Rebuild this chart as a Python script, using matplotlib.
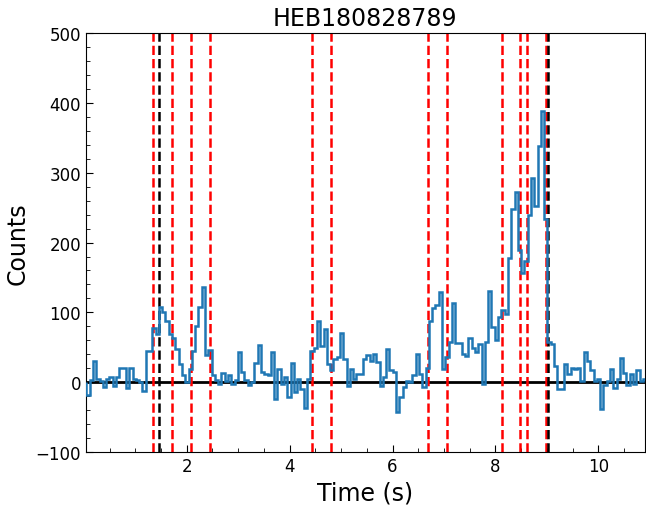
import numpy as np
import matplotlib
matplotlib.use("Agg")
import matplotlib.pyplot as plt
from matplotlib.ticker import MultipleLocator

title = "HEB180828789"
t_start = 0.05
bin_width = 0.064
counts = [
    -19, 3, 30, 5, 2, -7, 5, 7, -6, 8,
    21, 20, -8, 20, 4, 3, 0, -12, 44, 44,
    77, 69, 107, 101, 88, 69, 64, 48, 26, 10,
    0, 19, 45, 80, 107, 137, 39, 46, 10, 3,
    -3, 13, 1, 10, -2, 3, 43, 15, 3, -4,
    0, 27, 53, 14, 12, 10, 43, -24, 19, -2,
    7, -21, 28, -14, 4, -10, -37, 4, 45, 49,
    87, 52, 76, 26, 18, 33, 36, 71, 33, -5,
    19, 5, 12, 12, 33, 39, 31, 41, 29, -5,
    7, 48, 17, 14, -42, -21, -7, 2, 0, 10,
    41, 12, -7, 21, 88, 106, 110, 129, 19, 36,
    58, 113, 56, 56, 41, 38, 63, 49, 43, 55,
    -2, 58, 131, 79, 60, 93, 103, 98, 178, 248,
    272, 190, 157, 174, 239, 292, 253, 338, 388, 233,
    57, 55, 23, -10, -10, 26, 12, 20, 19, 21,
    1, 43, 30, 17, 1, 5, -38, -4, 2, 19,
    -9, 5, 34, 13, -4, 12, -2, 17, 2, 5,
]
red_lines = [1.340, 1.709, 2.078, 2.447, 4.427, 4.796, 6.680, 7.049,
             8.117, 8.485, 8.621, 8.990]
black_lines = [1.456, 9.029]

edges = t_start + bin_width * np.arange(len(counts) + 1)

fig = plt.figure(figsize=(6.46, 5.06), dpi=100)
ax = fig.add_axes([0.133, 0.1047, 0.865, 0.828])

ax.axhline(0, color="black", lw=2, zorder=1)
for x in red_lines:
    ax.axvline(x, color="red", ls="--", lw=1.8, zorder=2)
for x in black_lines:
    ax.axvline(x, color="black", ls="--", lw=1.8, zorder=2)
ax.stairs(counts, edges, color="#1f77b4", lw=1.8, zorder=3)

ax.set_xlim(0.04, 10.9)
ax.set_ylim(-100, 500)
ax.xaxis.set_major_locator(MultipleLocator(2))
ax.xaxis.set_minor_locator(MultipleLocator(0.5))
ax.yaxis.set_major_locator(MultipleLocator(100))
ax.yaxis.set_minor_locator(MultipleLocator(20))
ax.tick_params(which="both", direction="in", labelsize=12)
ax.tick_params(which="major", length=5)
ax.tick_params(which="minor", length=3)

ax.set_xlabel("Time (s)", fontsize=17)
ax.set_ylabel("Counts", fontsize=17)
ax.set_title(title, fontsize=17)

fig.savefig("out.png", dpi=100)
